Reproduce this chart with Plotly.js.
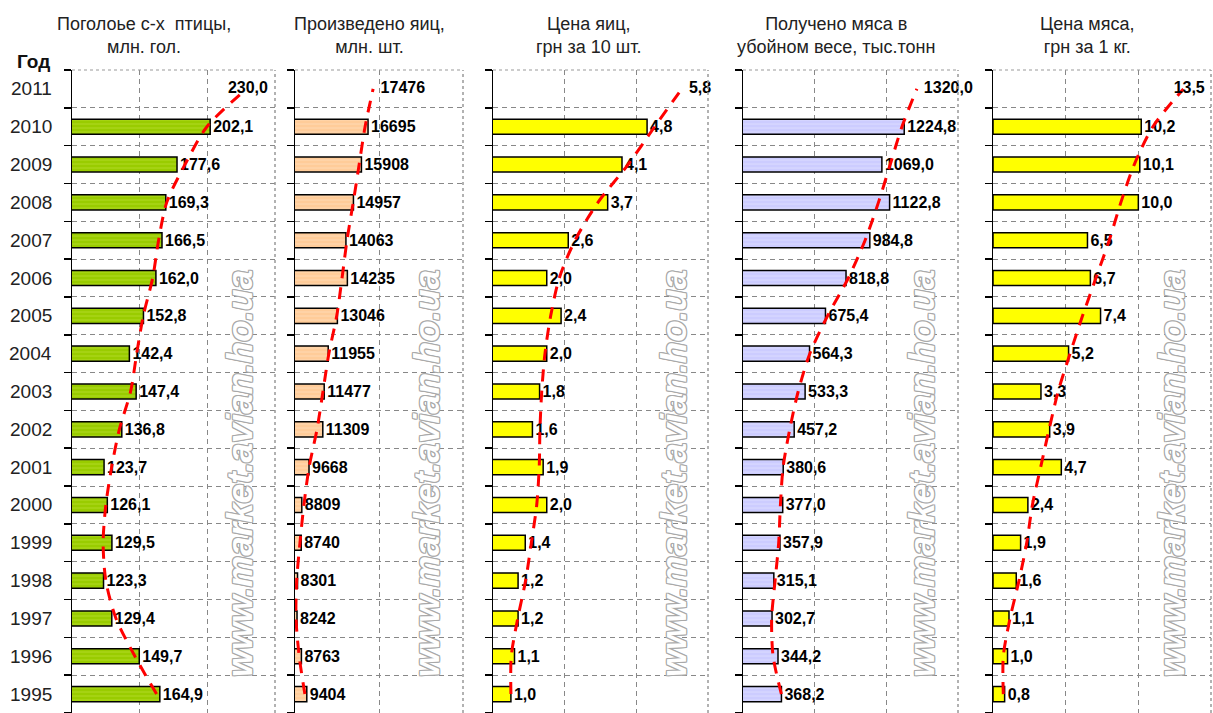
<!DOCTYPE html>
<html>
<head>
<meta charset="utf-8">
<script src="https://cdn.plot.ly/plotly-3.0.1.min.js"></script>
<style>
html,body{margin:0;padding:0;background:#fff;}
#chart{width:1213px;height:713px;}
</style>
</head>
<body>
<div id="chart"></div>
<script>
// ---- data ----
const years = [1995,1996,1997,1998,1999,2000,2001,2002,2003,2004,2005,2006,2007,2008,2009,2010];
const forecastYear = 2011;

const poultry   = [164.9,149.7,129.4,123.3,129.5,126.1,123.7,136.8,147.4,142.4,152.8,162.0,166.5,169.3,177.6,202.1];
const eggs      = [9404,8763,8242,8301,8740,8809,9668,11309,11477,11955,13046,14235,14063,14957,15908,16695];
const eggPrice  = [1.0,1.1,1.2,1.2,1.4,2.0,1.9,1.6,1.8,2.0,2.4,2.0,2.6,3.7,4.1,4.8];
const meat      = [368.2,344.2,302.7,315.1,357.9,377.0,380.6,457.2,533.3,564.3,675.4,818.8,984.8,1122.8,1069.0,1224.8];
const meatPrice = [0.8,1.0,1.1,1.6,1.9,2.4,4.7,3.9,3.3,5.2,7.4,6.7,6.5,10.0,10.1,10.2];

// forecast values for 2011 (labels)
const forecast = [230.0, 17476, 5.8, 1320.0, 13.5];

// trend lines, 1995..2011
const trendYears = [1995,1996,1997,1998,1999,2000,2001,2002,2003,2004,2005,2006,2007,2008,2009,2010,2011];
const trendPoultry   = [162.5,146.5,132.5,125,123,125,129.3,135,143.3,147.8,152.7,159.6,164,170,183.5,199.7,229];
const trendEggs      = [9175,8500,8120,8200,8590,9060,9680,10620,11330,12030,12970,13600,14190,14933,15638,16343,17300];
const trendEggPrice  = [1.0,1.01,1.19,1.41,1.57,1.72,1.79,1.81,1.86,1.95,2.11,2.35,2.79,3.43,4.27,5.01,5.77];
const trendMeat      = [368,310,300,324,349,361,380,426,485,566,690,835,952,1045,1127,1209,1313];
const trendMeatPrice = [0.71,0.71,1.17,1.79,2.32,2.71,3.28,3.86,4.48,5.3,6.16,7.08,8.0,8.8,9.72,11.0,13.1];

const titles = [
  "Поголоье с-х  птицы,<br>млн. гол.",
  "Произведено яиц,<br>млн. шт.",
  "Цена яиц,<br>грн за 10 шт.",
  "Получено мяса в<br>убойном весе, тыс.тонн",
  "Цена мяса,<br>грн за 1 кг."
];
const watermark = "www.market.avian.ho.ua";
const yearHeader = "Год";

// ---- styling / layout helpers ----
const W = 1213, H = 713, T = 70;
const FONT = "Liberation Sans, Arial, sans-serif";
const fmt1 = v => v.toFixed(1).replace('.', ',');
const fmt0 = v => String(v);

const panels = [
  {vals: poultry,   trend: trendPoultry,   fmt: fmt1, color:'#99CC00', fg:'#c2e23c',
   dom:[72,275],  range:[100,250], tick0:100, dtick:50, title:[144,1], wm:240, fpos:'middle center'},
  {vals: eggs,      trend: trendEggs,      fmt: fmt0, color:'#FFCC99', fg:'#ffe2c4',
   dom:[295,463], range:[8000,28000], tick0:8000, dtick:10000, title:[369,1], wm:427, fpos:'middle right'},
  {vals: eggPrice,  trend: trendEggPrice,  fmt: fmt1, color:'#FFFF00', fg:null,
   dom:[493,708], range:[0.5,6.5], tick0:0.5, dtick:2, title:[589,1], wm:674, fpos:'middle right'},
  {vals: meat,      trend: trendMeat,      fmt: fmt1, color:'#CCCCFF', fg:'#e6e6ff',
   dom:[743,958], range:[100,1600], tick0:100, dtick:500, title:[836,1], wm:922, fpos:'middle right'},
  {vals: meatPrice, trend: trendMeatPrice, fmt: fmt1, color:'#FFFF00', fg:null,
   dom:[993,1211], range:[0,15], tick0:0, dtick:5, title:[1087,1], wm:1172, fpos:'middle center'}
];

const traces = [];
const layout = {
  width: W, height: H,
  margin: {l:0, r:0, t:T, b:0, pad:0},
  paper_bgcolor:'#ffffff', plot_bgcolor:'#ffffff',
  showlegend:false,
  font:{family:FONT, color:'#222'},
  annotations: [],
  shapes: []
};
const py = p => (H - p) / (H - T);   // pixel y -> paper y
const wmShadow = ['1px 0 0','-1px 0 0','0 1px 0','0 -1px 0','1px 1px 0','-1px -1px 0','1px -1px 0','-1px 1px 0']
  .map(s => s + ' #a9a9a9').join(', ');

panels.forEach((p, i) => {
  const n = i === 0 ? '' : String(i + 1);
  const xa = 'x' + n, ya = 'y' + n;
  const marker = {color:p.color, line:{color:'#000', width:1.5}};
  if (p.fg) marker.pattern = {shape:'-', bgcolor:p.color, fgcolor:p.fg, size:4, solidity:0.3, fillmode:'overlay'};
  traces.push({
    type:'bar', orientation:'h', x:p.vals, y:years, xaxis:xa, yaxis:ya,
    width:0.4, marker:marker,
    text:p.vals.map(p.fmt), textposition:'outside', constraintext:'none',
    textfont:{family:FONT, size:16, color:'#000', weight:'bold'},
    hoverinfo:'skip'
  });
  traces.push({
    type:'scatter', mode:'lines', x:p.trend, y:trendYears, xaxis:xa, yaxis:ya,
    line:{color:'#FF0000', width:3, dash:'12px,9px', shape:'spline', smoothing:0.8},
    hoverinfo:'skip'
  });
  traces.push({
    type:'scatter', mode:'markers+text', x:[forecast[i]], y:[forecastYear], xaxis:xa, yaxis:ya,
    marker:{size:8, color:'rgba(0,0,0,0)'},
    text:[p.fmt(forecast[i])], textposition:p.fpos, cliponaxis:false,
    textfont:{family:FONT, size:16, color:'#000', weight:'bold'},
    hoverinfo:'skip'
  });
  layout['xaxis' + n] = {
    domain:[p.dom[0]/W, p.dom[1]/W], range:p.range, anchor:ya,
    tickmode:'linear', tick0:p.tick0, dtick:p.dtick,
    showticklabels:false, ticks:'', showline:false, zeroline:false,
    showgrid:true, gridcolor:'#888888', gridwidth:1, griddash:'5px,4px',
    fixedrange:true
  };
  layout['yaxis' + n] = {
    domain:[0,1], range:[1994.5, 2011.5], anchor:xa,
    tickmode:'linear', tick0:1994.5, dtick:1,
    showticklabels:false, ticks:'outside', ticklen:7, tickwidth:1.5, tickcolor:'#000',
    showline:true, linecolor:'#000', linewidth:1.5, zeroline:false,
    showgrid:true, gridcolor:'#888888', gridwidth:1, griddash:'5px,4px',
    fixedrange:true
  };
  // top & right frame of the plot area
  layout.shapes.push({type:'line', xref:xa + ' domain', yref:ya + ' domain', x0:0, x1:1, y0:1, y1:1,
    line:{color:'#999', width:1, dash:'dot'}, layer:'above'});
  layout.shapes.push({type:'line', xref:xa + ' domain', yref:ya + ' domain', x0:1, x1:1, y0:0, y1:1,
    line:{color:'#999', width:1.5, dash:'dot'}, layer:'above'});
  // panel title
  layout.annotations.push({text:titles[i], xref:'paper', yref:'paper', x:p.title[0]/W, y:py(35),
    xanchor:'center', yanchor:'middle', showarrow:false, align:'center',
    font:{family:FONT, size:18, color:'#222'}});
  // watermark
  layout.annotations.push({text:watermark, xref:'paper', yref:'paper', x:p.wm/W, y:py(474),
    xanchor:'center', yanchor:'middle', showarrow:false, textangle:-90,
    font:{family:FONT, size:35, color:'#ffffff', style:'italic', weight:'bold', shadow:wmShadow}});
});

// year labels on the first panel
years.concat([forecastYear]).forEach(y => {
  layout.annotations.push({text:String(y), xref:'paper', yref:'y', x:54/W, y:y,
    xanchor:'right', yanchor:'middle', showarrow:false,
    font:{family:FONT, size:19, color:'#222'}});
});
layout.annotations.push({text:yearHeader, xref:'paper', yref:'paper', x:33/W, y:py(62),
  xanchor:'center', yanchor:'middle', showarrow:false,
  font:{family:FONT, size:19, color:'#111', weight:'bold'}});

Plotly.newPlot('chart', traces, layout, {displayModeBar:false, staticPlot:true});
</script>
</body>
</html>
